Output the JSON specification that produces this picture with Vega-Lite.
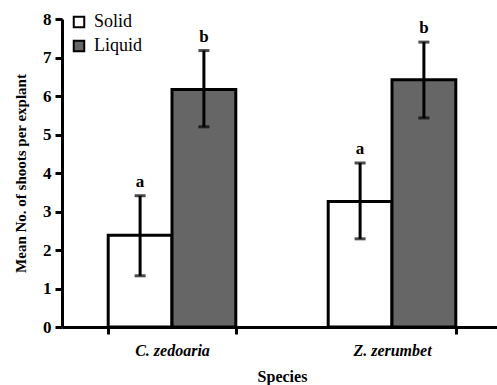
{
  "$schema": "https://vega.github.io/schema/vega-lite/v6.json",
  "autosize": "none",
  "padding": {"left": 62, "top": 19, "right": 0, "bottom": 58},
  "width": 440,
  "height": 308,
  "background": "white",
  "config": {
    "view": {"stroke": null},
    "font": "Liberation Serif"
  },
  "data": {
    "values": [
      {"species": "C. zedoaria", "medium": "Solid", "mean": 2.38, "lo": 1.33, "hi": 3.41, "letter": "a"},
      {"species": "C. zedoaria", "medium": "Liquid", "mean": 6.17, "lo": 5.2, "hi": 7.18, "letter": "b"},
      {"species": "Z. zerumbet", "medium": "Solid", "mean": 3.26, "lo": 2.29, "hi": 4.26, "letter": "a"},
      {"species": "Z. zerumbet", "medium": "Liquid", "mean": 6.42, "lo": 5.43, "hi": 7.4, "letter": "b"}
    ]
  },
  "encoding": {
    "x": {
      "field": "species",
      "type": "nominal",
      "sort": ["C. zedoaria", "Z. zerumbet"],
      "scale": {"paddingInner": 0.42, "paddingOuter": 0.21},
      "axis": {
        "title": "Species",
        "titleFont": "Liberation Serif",
        "titleFontSize": 16,
        "titleFontWeight": "bold",
        "titleColor": "black",
        "titlePadding": 10,
        "labelAngle": 0,
        "labelFont": "Liberation Serif",
        "labelFontSize": 16,
        "labelFontStyle": "italic",
        "labelFontWeight": "bold",
        "labelColor": "black",
        "labelPadding": 8,
        "tickBand": "extent",
        "tickColor": "black",
        "tickWidth": 3,
        "tickSize": 7,
        "domainColor": "black",
        "domainWidth": 3
      }
    },
    "xOffset": {"field": "medium", "type": "nominal", "sort": ["Solid", "Liquid"], "scale": {"paddingInner": 0, "paddingOuter": 0}}
  },
  "layer": [
    {
      "mark": {"type": "bar", "stroke": "black", "strokeWidth": 3},
      "encoding": {
        "y": {
          "field": "mean",
          "type": "quantitative",
          "scale": {"domain": [0, 8]},
          "axis": {
            "title": "Mean No. of shoots per explant",
            "titleFont": "Liberation Serif",
            "titleFontSize": 15,
            "titleFontWeight": "bold",
            "titleColor": "black",
            "titlePadding": 14,
            "labelFont": "Liberation Serif",
            "labelFontSize": 17,
            "labelFontWeight": "bold",
            "labelColor": "black",
            "labelPadding": 4,
            "tickCount": 8,
            "grid": false,
            "tickColor": "black",
            "tickWidth": 3,
            "tickSize": 7,
            "domainColor": "black",
            "domainWidth": 3
          }
        },
        "fill": {
          "field": "medium",
          "type": "nominal",
          "sort": ["Solid", "Liquid"],
          "scale": {"domain": ["Solid", "Liquid"], "range": ["white", "#666666"]},
          "legend": {
            "title": null,
            "orient": "none",
            "legendX": 8,
            "legendY": -6,
            "symbolType": "square",
            "symbolSize": 110,
            "symbolStrokeColor": "black",
            "symbolStrokeWidth": 2,
            "labelFont": "Liberation Serif",
            "labelFontSize": 18,
            "labelColor": "black",
            "labelOffset": 6,
            "rowPadding": 4
          }
        }
      }
    },
    {
      "mark": {"type": "rule", "strokeWidth": 3, "color": "black"},
      "encoding": {
        "y": {"field": "lo", "type": "quantitative"},
        "y2": {"field": "hi"}
      }
    },
    {
      "mark": {"type": "tick", "orient": "horizontal", "size": 11, "thickness": 3, "color": "black"},
      "encoding": {"y": {"field": "lo", "type": "quantitative"}}
    },
    {
      "mark": {"type": "tick", "orient": "horizontal", "size": 11, "thickness": 3, "color": "black"},
      "encoding": {"y": {"field": "hi", "type": "quantitative"}}
    },
    {
      "mark": {"type": "text", "dy": -14, "fontSize": 17, "fontWeight": "bold", "font": "Liberation Serif", "color": "black"},
      "encoding": {
        "y": {"field": "hi", "type": "quantitative"},
        "text": {"field": "letter"}
      }
    }
  ]
}
